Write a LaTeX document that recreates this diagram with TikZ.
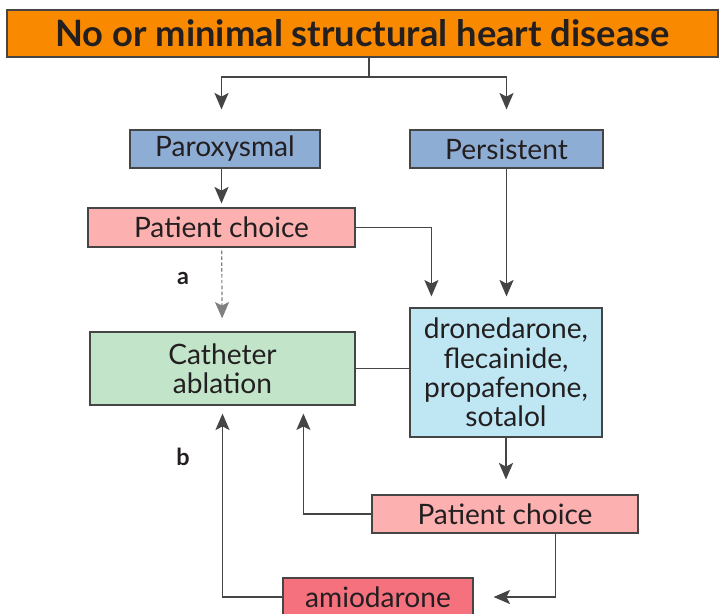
\documentclass[tikz,border=0pt]{standalone}
\usepackage{fontspec}
\setmainfont{Lato}
\usetikzlibrary{arrows.meta,calc}

\definecolor{boxline}{HTML}{454545}
\definecolor{txt}{HTML}{231F20}
\definecolor{orangebox}{HTML}{F98A00}
\definecolor{bluebox}{HTML}{8EADD5}
\definecolor{pinkbox}{HTML}{FCB0B0}
\definecolor{greenbox}{HTML}{C2E5CA}
\definecolor{drugbox}{HTML}{BEE6F3}
\definecolor{redbox}{HTML}{F5717E}

\tikzset{
  box/.style={draw=boxline,line width=1pt,text=txt,inner sep=0pt,align=center,font=\fontsize{24}{25}\selectfont},
  arr/.style={draw=boxline,line width=1pt,-{Stealth[length=14pt,width=12pt,inset=3pt]}},
  link/.style={draw=boxline,line width=1pt},
  tag/.style={text=txt,font=\fontsize{20}{22}\selectfont\bfseries}
}

\begin{document}
\begin{tikzpicture}[x=0.03cm,y=-0.03cm]
  \useasboundingbox (0,0) rectangle (723,614);
  % boxes
  \node[box,fill=orangebox,minimum width=711*0.03cm,minimum height=47*0.03cm,font=\fontsize{31}{33}\selectfont\bfseries] (top) at (362.5,33.5) {No or minimal structural heart disease};
  \node[box,fill=bluebox,minimum width=190*0.03cm,minimum height=38*0.03cm] (parox) at (225,149) {Paroxysmal};
  \node[box,fill=bluebox,minimum width=193*0.03cm,minimum height=38*0.03cm] (persist) at (506.5,149) {Persistent};
  \node[box,fill=pinkbox,minimum width=267*0.03cm,minimum height=39*0.03cm] (choice1) at (221.5,227.5) {Patient choice};
  \node[box,fill=greenbox,minimum width=265*0.03cm,minimum height=73*0.03cm] (cath) at (222.5,368.5) {Catheter\\ablation};
  \node[box,fill=drugbox,minimum width=192*0.03cm,minimum height=129*0.03cm] (drugs) at (506,372.5) {dronedarone,\\flecainide,\\propafenone,\\sotalol};
  \node[box,fill=pinkbox,minimum width=266*0.03cm,minimum height=38*0.03cm] (choice2) at (505,514) {Patient choice};
  \node[box,fill=redbox,minimum width=190*0.03cm,minimum height=38*0.03cm] (amio) at (378,597) {amiodarone};
  \node[tag] (a) at (183,278) {a};
  \node[tag] (b) at (183,457) {b};

  % connectors
  \coordinate (split) at (369,77);
  \draw[link] (top.south -| split) -- (split);
  \draw[arr,shorten >=20*0.03cm] (split) -| (choice1.north |- parox.north);
  \draw[arr,shorten >=20*0.03cm] (split) -| (persist.north);
  \draw[arr,shorten >=4*0.03cm] (choice1.north |- parox.south) -- (choice1.north);
  \draw[arr,shorten >=11*0.03cm] (choice1.east) -| ($(drugs.north west)+(22,0)$);
  \draw[arr,shorten >=11*0.03cm] (persist.south) -- (persist.south |- drugs.north);
  \draw[arr,draw=gray,densely dashed,shorten <=3*0.03cm,shorten >=13*0.03cm] (choice1) -- (cath);
  \draw[link] (cath.east) -- (cath.east -| drugs.west);
  \draw[arr,shorten >=15*0.03cm] (drugs.south) -- (drugs.south |- choice2.north);
  \draw[arr,shorten >=8*0.03cm] (choice2.west) -| ($(cath.south west)+(214,0)$);
  \draw[arr,shorten >=8*0.03cm] (amio.west) -| (cath.south);
  \draw[arr] ($(choice2.south west)+(184,0)$) |- ($(amio.east)+(20,0)$);
\end{tikzpicture}
\end{document}
